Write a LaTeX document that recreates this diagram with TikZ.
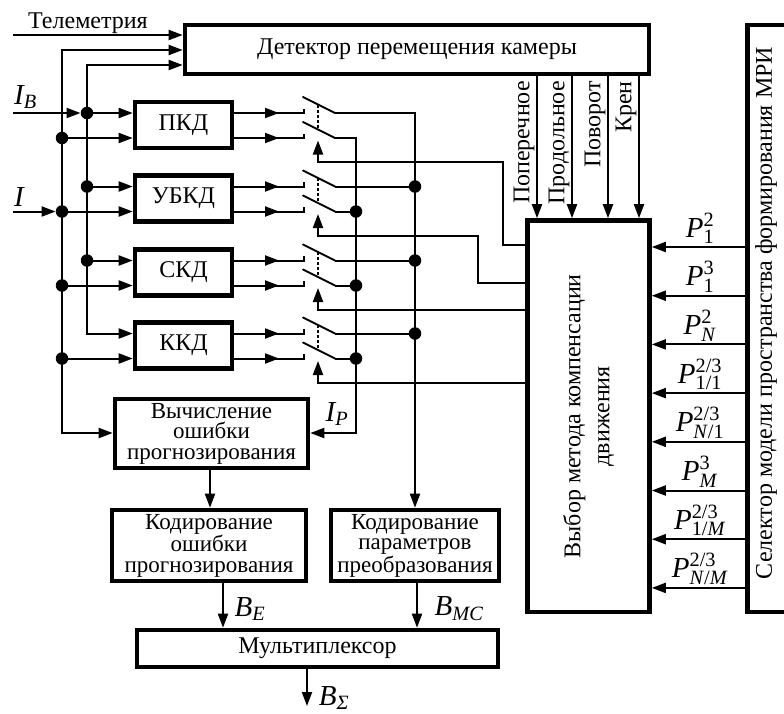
\documentclass[tikz,border=0pt]{standalone}
\usepackage{fontspec}
\setmainfont{Liberation Serif}
\usepackage{amsmath}
\usetikzlibrary{arrows.meta,calc}
\newcommand\boxfnt{\fontsize{24}{20.5}\selectfont}
\newcommand\mlfnt{\fontsize{23}{20.5}\selectfont}
\newcommand\rotfnt{\fontsize{24}{29}\selectfont}
\newcommand\symfnt{\fontsize{29}{29}\selectfont}
\newcommand\Plab[2]{$\textit{P}^{\text{#2}}_{\text{#1}}$}
\begin{document}
\begin{tikzpicture}[x=1pt,y=-1pt,
  ln/.style={line width=2pt, line join=miter},
  box/.style={draw, line width=4.6pt, inner sep=1pt, align=center, font=\boxfnt},
  mlbox/.style={box, font=\mlfnt},
  arr/.style={ln, -{Triangle[length=14pt,width=10pt]}},
  darr/.style={ln, {Triangle[length=14pt,width=10pt]}-{Triangle[length=14pt,width=10pt]}},
  jdot/.style={circle, fill, inner sep=0pt, minimum size=12.5pt},
  txt/.style={font=\boxfnt, inner sep=1pt},
  sym/.style={font=\symfnt, inner sep=0pt}]
\useasboundingbox (0,0) rectangle (784,713);
\clip (0,0) rectangle (784,713);

% boxes
\node[box, minimum width=464pt, minimum height=49pt] (det) at (417,49.5) {Детектор перемещения камеры};
\node[box, minimum width=97pt, minimum height=46pt] (pkd) at (183.5,125) {ПКД};
\node[box, minimum width=97pt, minimum height=46pt] (ubkd) at (183.5,198.5) {УБКД};
\node[box, minimum width=97pt, minimum height=46pt] (skd) at (183.5,272.5) {СКД};
\node[box, minimum width=97pt, minimum height=46pt] (kkd) at (183.5,345.5) {ККД};
\node[mlbox, minimum width=193pt, minimum height=69pt] (vych) at (211.5,433.5) {Вычисление\\ошибки\\прогнозирования};
\node[mlbox, minimum width=194pt, minimum height=71pt] (ke) at (209,545.5) {Кодирование\\ошибки\\прогнозирования};
\node[mlbox, minimum width=168pt, minimum height=71pt] (kp) at (415,545.5) {Кодирование\\параметров\\преобразования};
\node[box, minimum width=361pt, minimum height=37pt] (mux) at (317.5,648.5) {Мультиплексор};
\node[box, minimum width=122pt, minimum height=391.5pt] (mc) at (588.5,416.25) {};
\node[txt, rotate=90, align=center, font=\rotfnt] (mct) at (mc.center) {Выбор метода компенсации\\движения};
\node[draw, line width=4.6pt, minimum width=100pt, minimum height=587pt, anchor=west] (sel) at (745.2,318.5) {};
\node[txt, rotate=90] (selt) at (766,313) {Селектор модели пространства формирования МРИ};

% detector inputs
\coordinate (tel0) at (13,35);
\draw[arr] (tel0) -- (tel0 -| det.west);
\node[txt, anchor=base] (tel) at (88,28) {Телеметрия};
\coordinate (bI0) at (62,50); \coordinate (bI1) at (62,433);
\draw[darr] (bI1 -| vych.west) -- (bI1) -- (bI0) -- (bI0 -| det.west);
\coordinate (bB0) at (87,65); \coordinate (bB1) at (87,333.5);
\draw[darr] (bB1 -| kkd.west) -- (bB1) -- (bB0) -- (bB0 -| det.west);

% junction dots on input buses
\node[jdot] (dB1) at (87,113) {};
\node[jdot] (dB2) at (87,186.5) {};
\node[jdot] (dB3) at (87,260.5) {};
\node[jdot] (dI1) at (62,138) {};
\node[jdot] (dI2) at (62,211.5) {};
\node[jdot] (dI3) at (62,285.5) {};
\node[jdot] (dI4) at (62,358.5) {};

\coordinate (inB) at (13,113); \coordinate (inI) at (13,211.5);
\draw[arr] (inB) -- (dB1);
\draw[arr] (inI) -- (dI2);
\node[sym, anchor=south west] (lIB) at (14,109) {$\textit{I}_{\textit{B}}$};
\node[sym, anchor=south west] (lI) at (14,207) {\textit{I}};

\draw[arr] (dB1) -- (dB1 -| pkd.west);
\draw[arr] (dB2) -- (dB2 -| ubkd.west);
\draw[arr] (dB3) -- (dB3 -| skd.west);
\draw[arr] (dI1) -- (dI1 -| pkd.west);
\draw[arr] (dI2) -- (dI2 -| ubkd.west);
\draw[arr] (dI3) -- (dI3 -| skd.west);
\draw[arr] (dI4) -- (dI4 -| kkd.west);

% switches
\foreach \nm/\ya/\yb [count=\i] in {pkd/113/138,ubkd/186.5/211.5,skd/260.5/285.5,kkd/333.5/358.5}{
  \coordinate (sa\i) at (304,\ya);
  \coordinate (sb\i) at (304,\yb);
  \coordinate (oa\i) at (335,\ya);
  \coordinate (ob\i) at (335,\yb);
  \draw[ln] (\nm.east |- sa\i) -- (sa\i) -- ++(0,-4.5);
  \draw[ln] (\nm.east |- sb\i) -- (sb\i) -- ++(0,-4.5);
  \draw[arr] (\nm.east |- sa\i) -- (279,\ya);
  \draw[arr] (\nm.east |- sb\i) -- (279,\yb);
  \draw[ln, line cap=round] (oa\i) -- ++(-32,-16);
  \draw[ln, line cap=round] (ob\i) -- ++(-32,-16);
  \draw[line width=1.5pt, dash pattern=on 3pt off 2pt] (318,\ya-8.5) -- (318,\yb-8.5);
}

% outputs of switches
\coordinate (bP0) at (415,113);
\draw[arr] (oa1) -- (bP0) -- (kp.north);
\node[jdot] (dP2) at (415,186.5) {};
\node[jdot] (dP3) at (415,260.5) {};
\node[jdot] (dP4) at (415,333.5) {};
\draw[ln] (oa2) -- (dP2);
\draw[ln] (oa3) -- (dP3);
\draw[ln] (oa4) -- (dP4);
\coordinate (bQ0) at (356,138); \coordinate (bQ1) at (356,433);
\draw[arr] (ob1) -- (bQ0) -- (bQ1) -- (bQ1 -| vych.east);
\node[jdot] (dQ2) at (356,211.5) {};
\node[jdot] (dQ3) at (356,285.5) {};
\node[jdot] (dQ4) at (356,358.5) {};
\draw[ln] (ob2) -- (dQ2);
\draw[ln] (ob3) -- (dQ3);
\draw[ln] (ob4) -- (dQ4);
\node[sym] (lIP) at (337,414) {$\textit{I}_{\textit{P}}$};

% control lines
\coordinate (k1) at (503,245); \coordinate (k2) at (478,283);
\coordinate (k3) at (318,309.5); \coordinate (k4) at (318,382.5);
\draw[arr] (k1 -| mc.west) -- (k1) -- (503,162) -- (318,162) -- (318,140.5);
\draw[arr] (k2 -| mc.west) -- (k2) -- (478,235.5) -- (318,235.5) -- (318,214);
\draw[arr] (k3 -| mc.west) -- (k3) -- (318,288);
\draw[arr] (k4 -| mc.west) -- (k4) -- (318,361);

% detector outputs
\foreach \x/\t [count=\j] in {537/Поперечное,572/Продольное,608/Поворот,639/Крен}{
  \coordinate (t\j) at (\x,0);
  \draw[arr] (t\j |- det.south) -- (t\j |- mc.north);
  \node[txt, rotate=90, anchor=east] (tl\j) at (\x-13,80) {\t};
}

% selector outputs
\foreach \y [count=\j] in {247,295.7,344.4,393.1,441.8,490.5,539.2,587.9}{
  \coordinate (p\j) at (700,\y);
  \draw[arr] (p\j -| sel.west) -- (p\j -| mc.east);
}
\node[sym, anchor=south] (pl1) at ($(p1)+(0,-3)$) {\Plab{1}{2}};
\node[sym, anchor=south] (pl2) at ($(p2)+(0,-3)$) {\Plab{1}{3}};
\node[sym, anchor=south] (pl3) at ($(p3)+(0,-3)$) {\Plab{\textit{N}}{2}};
\node[sym, anchor=south] (pl4) at ($(p4)+(0,-3)$) {\Plab{1/1}{2/3}};
\node[sym, anchor=south] (pl5) at ($(p5)+(0,-3)$) {\Plab{\textit{N}/1}{2/3}};
\node[sym, anchor=south] (pl6) at ($(p6)+(0,-3)$) {\Plab{\textit{M}}{3}};
\node[sym, anchor=south] (pl7) at ($(p7)+(0,-3)$) {\Plab{1/\textit{M}}{2/3}};
\node[sym, anchor=south] (pl8) at ($(p8)+(0,-3)$) {\Plab{\textit{N}/\textit{M}}{2/3}};

% bottom part
\coordinate (ve) at (210,0);
\draw[arr] (ve |- vych.south) -- (ve |- ke.north);
\coordinate (be) at (223,0);
\draw[arr] (be |- ke.south) -- (be |- mux.north);
\coordinate (bm) at (417,0);
\draw[arr] (bm |- kp.south) -- (bm |- mux.north);
\coordinate (bs) at (307,706);
\draw[arr] (bs |- mux.south) -- (bs);
\node[sym] (lBE) at (250,609) {$\textit{B}_{\textit{E}}$};
\node[sym] (lBM) at (459,609) {$\textit{B}_{\textit{MC}}$};
\node[sym] (lBS) at (334,698) {$\textit{B}_{\textit{Σ}}$};
\end{tikzpicture}
\end{document}
